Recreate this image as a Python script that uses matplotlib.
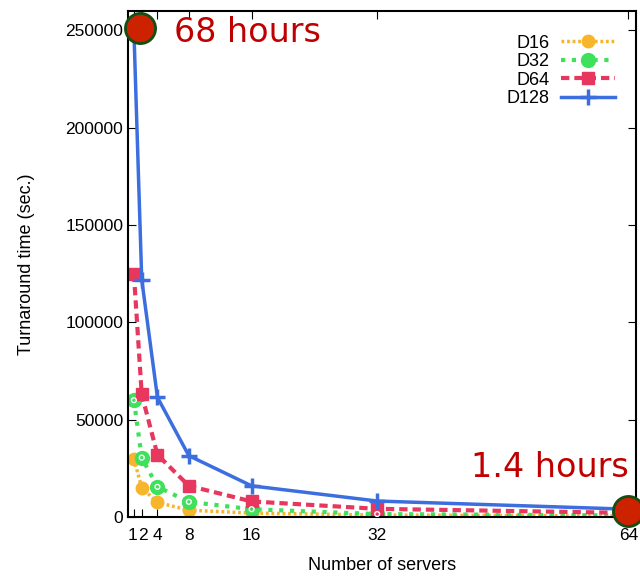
import numpy as np
import matplotlib.pyplot as plt
import matplotlib.transforms as mtransforms

# Data
servers = [1, 2, 4, 8, 16, 32, 64]
d16 = [30000, 15000, 7500, 3500, 2000, 1000, 500]
d32 = [60000, 30500, 15500, 7800, 4000, 1500, 800]
d64 = [125000, 63000, 32000, 16000, 8000, 4200, 2100]
d128 = [250000, 122000, 61500, 31500, 16000, 8200, 4000]
highlight_x = [1.8, 64]
highlight_y = [251000, 3000]

plt.rcParams['font.family'] = ['Liberation Sans', 'DejaVu Sans']

fig = plt.figure(figsize=(6.4, 5.77), dpi=100)
ax = fig.add_axes([0.2, 0.104, 0.794, 0.877])

ax.plot(servers, d16, color='#f7b52c', linestyle=(0, (0.8, 0.8)), linewidth=2.5,
        marker='o', markersize=9, label='D16')
ax.plot(servers, d32, color='#3ee05c', linestyle=(0, (1, 1.6)), linewidth=3,
        marker='o', markersize=10, markerfacecolor='#3ee05c',
        markeredgecolor='#3ee05c', label='D32')
ax.scatter(servers, d32, s=12, facecolors='none', edgecolors='white',
           linewidths=1, zorder=3)
ax.plot(servers, d64, color='#e8375f', linestyle=(0, (2, 1.2)), linewidth=3,
        marker='s', markersize=9, label='D64')
ax.plot(servers, d128, color='#3c6ee0', linestyle='-', linewidth=2.5,
        marker='+', markersize=11, markeredgewidth=2.5, label='D128')

# Highlighted extremes
ax.scatter(highlight_x, highlight_y, s=470, color='#cc2200',
           edgecolors='#154d15', linewidths=2, zorder=5, clip_on=False)
ax.text(6.1, 249000, '68 hours', color='#c00000', fontsize=24,
        family='DejaVu Sans', va='center', ha='left')
ax.text(64, 25500, '1.4 hours', color='#c00000', fontsize=24,
        family='DejaVu Sans', va='center', ha='right')

ax.set_xlim(0.25, 65)
ax.set_ylim(0, 260000)
ax.set_xticks(servers)
ax.set_xticklabels(['1', '2', '4', '8', '16', '32', '64'])
ax.set_yticks([0, 50000, 100000, 150000, 200000, 250000])
ax.tick_params(direction='in', top=True, right=True, length=6, labelsize=12.5)
ax.tick_params(axis='x', pad=8)
labels = ax.get_xticklabels()
labels[0].set_transform(labels[0].get_transform() +
                        mtransforms.ScaledTranslation(-1 / 100, 0, fig.dpi_scale_trans))
labels[1].set_transform(labels[1].get_transform() +
                        mtransforms.ScaledTranslation(1 / 100, 0, fig.dpi_scale_trans))
for s in ax.spines.values():
    s.set_linewidth(1.5)

ax.set_xlabel('Number of servers', fontsize=13, labelpad=10)
ax.set_ylabel('Turnaround time (sec.)', fontsize=13, labelpad=22)

ax.legend(loc='upper right', bbox_to_anchor=(0.99, 0.985), frameon=False,
          markerfirst=False, fontsize=13, handlelength=3, handletextpad=0.6,
          labelspacing=0.08)

fig.savefig('out.png', dpi=100)
